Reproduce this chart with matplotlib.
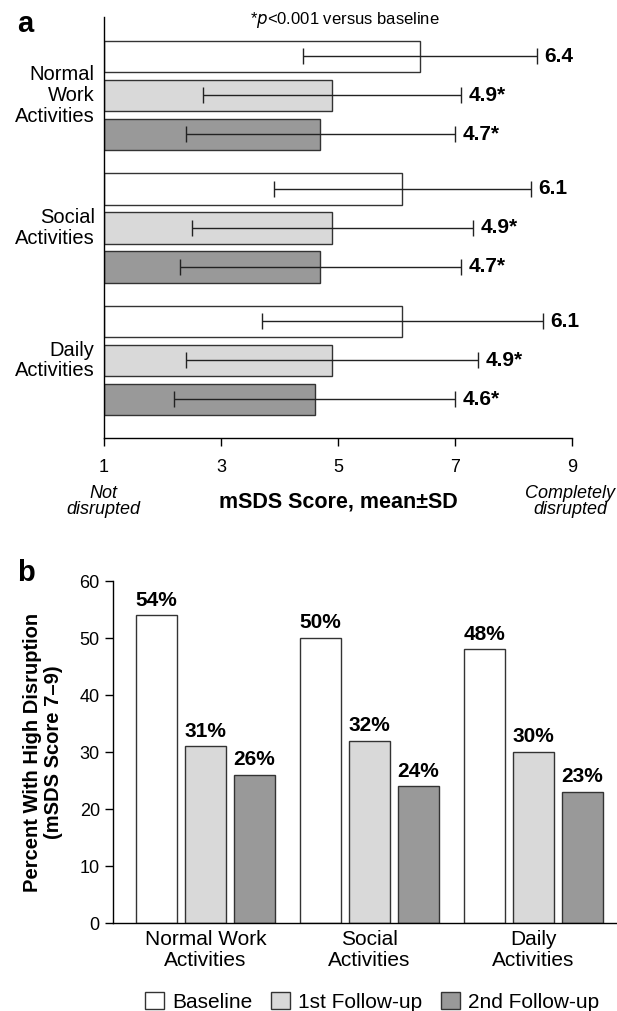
import numpy as np
import matplotlib
matplotlib.use("Agg")
import matplotlib.pyplot as plt
from matplotlib.patches import Patch

plt.rcParams["font.family"] = ["Liberation Sans", "DejaVu Sans"]

# ── Data ────────────────────────────────────────────────────────────────
categories_a = ["Normal\nWork\nActivities", "Social\nActivities", "Daily\nActivities"]
categories_b = ["Normal Work\nActivities", "Social\nActivities", "Daily\nActivities"]
series = ["Baseline", "1st Follow-up", "2nd Follow-up"]

mean_scores = [[6.4, 4.9, 4.7], [6.1, 4.9, 4.7], [6.1, 4.9, 4.6]]
sd_scores = [[2.0, 2.2, 2.3], [2.2, 2.4, 2.4], [2.4, 2.5, 2.4]]
sig_flags = [[False, True, True], [False, True, True], [False, True, True]]

pct_high = [[54, 31, 26], [50, 32, 24], [48, 30, 23]]

colors = ["#ffffff", "#d9d9d9", "#999999"]
edge = "#333333"

fig = plt.figure(figsize=(6.17, 10.11), dpi=100)

# ── Panel a ─────────────────────────────────────────────────────────────
ax = fig.add_axes([0.1686, 0.5663, 0.7585, 0.4169])
GROUP = 3.40
for g in range(3):
    for j in range(3):
        y = 2.01 + g * GROUP + (j - 1)
        m = mean_scores[g][j]
        s = sd_scores[g][j]
        ax.barh(y, m - 1, left=1, height=0.81, color=colors[j],
                edgecolor=edge, lw=1.0, zorder=2)
        ax.errorbar(m, y, xerr=s, fmt="none", ecolor="#222222", elinewidth=1.0,
                    capsize=6, capthick=1.0, zorder=3)
        lbl = f"{m:.1f}" + ("*" if sig_flags[g][j] else "")
        ax.text(m + s + 0.13, y, lbl, ha="left", va="center",
                fontsize=15, fontweight="bold", zorder=4)
    ax.text(0.84, 2.01 + g * GROUP, categories_a[g], ha="right", va="center",
            fontsize=14.5, linespacing=1.12)

ax.set_xlim(1, 9)
ax.set_ylim(10.81, 0)
ax.set_xticks([1, 3, 5, 7, 9])
ax.set_yticks([])
ax.tick_params(axis="x", labelsize=13, length=6, width=1.0, pad=9)
for sp in ["top", "right"]:
    ax.spines[sp].set_visible(False)
for sp in ["left", "bottom"]:
    ax.spines[sp].set_linewidth(1.0)

fig.text(0.559, 0.980, "*$p$<0.001 versus baseline", ha="center", va="center", fontsize=12)
fig.text(0.028, 0.976, "a", fontsize=21, fontweight="bold", va="center")
fig.text(0.167, 0.504, "Not\ndisrupted", ha="center", va="center",
         fontsize=13, style="italic", linespacing=0.95)
fig.text(0.549, 0.5035, "mSDS Score, mean\u00b1SD", ha="center", va="center",
         fontsize=15.5, fontweight="bold")
fig.text(0.924, 0.504, "Completely\ndisrupted", ha="center", va="center",
         fontsize=13, style="italic", linespacing=0.95)

# ── Panel b ─────────────────────────────────────────────────────────────
bx = fig.add_axes([0.1831, 0.0870, 0.8169, 0.3383])
GROUP_B = 3.347
for g in range(3):
    for j in range(3):
        x = 0.888 + g * GROUP_B + j
        v = pct_high[g][j]
        bx.bar(x, v, width=0.837, color=colors[j], edgecolor=edge, lw=1.0, zorder=2)
        bx.text(x, v + 1.0, f"{v}%", ha="center", va="bottom",
                fontsize=15, fontweight="bold")

bx.set_xlim(0, 10.29)
bx.set_ylim(0, 60)
bx.set_yticks(range(0, 61, 10))
bx.set_xticks([0.888 + 1 + g * GROUP_B for g in range(3)])
bx.set_xticklabels(categories_b, fontsize=15, linespacing=1.15)
bx.tick_params(axis="x", length=0, pad=5)
bx.tick_params(axis="y", labelsize=13, length=6, width=1.0)
for sp in ["top", "right"]:
    bx.spines[sp].set_visible(False)
for sp in ["left", "bottom"]:
    bx.spines[sp].set_linewidth(1.0)
bx.set_ylabel("Percent With High Disruption\n(mSDS Score 7\u20139)",
              fontsize=14.5, fontweight="bold", labelpad=12, linespacing=1.15)

fig.text(0.028, 0.433, "b", fontsize=21, fontweight="bold", va="center")

handles = [Patch(facecolor=c, edgecolor=edge, lw=1.0) for c in colors]
fig.legend(handles, series, loc="center", bbox_to_anchor=(0.603, 0.009), ncol=3,
           frameon=False, fontsize=15, handlelength=0.9, handleheight=0.9,
           handletextpad=0.4, columnspacing=0.9, borderaxespad=0)

fig.savefig("out.png", dpi=100)
